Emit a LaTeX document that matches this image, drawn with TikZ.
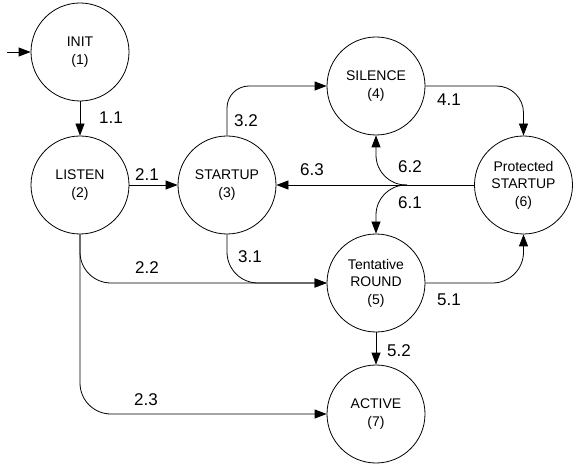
\documentclass[tikz,border=0pt]{standalone}
\usepackage{fontspec}
\setmainfont{Liberation Sans}
\usetikzlibrary{arrows.meta}
\begin{document}
\begin{tikzpicture}[x=1pt,y=-1pt,
  state/.style={draw,circle,line width=0.8pt,minimum size=98pt,inner sep=0pt,align=center,font=\fontsize{14}{17.5}\selectfont},
  lbl/.style={font=\fontsize{17}{20}\selectfont,inner sep=0pt},
  tr/.style={line width=0.8pt,-{Triangle[length=12pt,width=9pt]}}]
\useasboundingbox (0,0) rectangle (575,470);
\node[state] (init) at (80,52) {INIT\\(1)};
\node[state] (listen) at (80,185) {LISTEN\\(2)};
\node[state] (startup) at (227,185) {STARTUP\\(3)};
\node[state] (silence) at (376,86) {SILENCE\\(4)};
\node[state] (tent) at (376,283) {Tentative\\ROUND\\(5)};
\node[state] (prot) at (523.5,185) {Protected\\STARTUP\\(6)};
\node[state] (active) at (376,414) {ACTIVE\\(7)};
\coordinate (start) at (7,52);
\coordinate (junc) at (407,185);
% edges
\draw[tr] (start) -- (init.west);
\draw[tr] (init.south) -- (listen.north);
\draw[tr] (listen.east) -- (startup.west);
\draw[tr,rounded corners=22pt] (startup.north) |- (silence.west);
\draw[tr,rounded corners=27pt] (silence.east) -| (prot.north);
\draw[tr] (prot.west) -- (startup.east);
\draw[tr,rounded corners=30pt] (junc) -| (silence.south);
\draw[tr,rounded corners=30pt] (junc) -| (tent.north);
\draw[tr,rounded corners=31pt] (tent.east) -| (prot.south);
\draw[tr] (tent.south) -- (active.north);
\draw[tr,rounded corners=31pt] (listen.south) |- (tent.west);
\draw[tr,rounded corners=31pt] (startup.south) |- (tent.west);
\draw[tr,rounded corners=31pt] (listen.south) |- (active.west);
% labels
\node[lbl] (l11) at (111,118) {1.1};
\node[lbl] (l21) at (147,175) {2.1};
\node[lbl] (l32) at (246,121) {3.2};
\node[lbl] (l63) at (312,170) {6.3};
\node[lbl] (l62) at (410,167) {6.2};
\node[lbl] (l61) at (410,203) {6.1};
\node[lbl] (l41) at (449,100) {4.1};
\node[lbl] (l51) at (449,300) {5.1};
\node[lbl] (l52) at (399,351) {5.2};
\node[lbl] (l22) at (147,268) {2.2};
\node[lbl] (l31) at (250,257) {3.1};
\node[lbl] (l23) at (146,400) {2.3};
\end{tikzpicture}
\end{document}
